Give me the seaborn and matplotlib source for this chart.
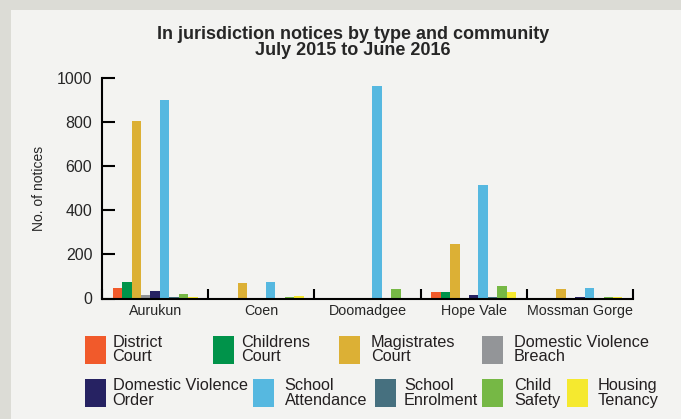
import matplotlib
matplotlib.use("Agg")
import matplotlib.pyplot as plt
from matplotlib.patches import Rectangle
import seaborn as sns
import pandas as pd

communities = ["Aurukun", "Coen", "Doomadgee", "Hope Vale", "Mossman Gorge"]
types = ["District Court", "Childrens Court", "Magistrates Court",
         "Domestic Violence Breach", "Domestic Violence Order",
         "School Attendance", "School Enrolment", "Child Safety", "Housing Tenancy"]
legend_labels = ["District\nCourt", "Childrens\nCourt", "Magistrates\nCourt",
                 "Domestic Violence\nBreach", "Domestic Violence\nOrder",
                 "School\nAttendance", "School\nEnrolment", "Child\nSafety", "Housing\nTenancy"]
colors = ["#f15a2b", "#00934a", "#dcb035", "#939598", "#262262",
          "#56b8e0", "#46707f", "#76b845", "#f5e92f"]

district_court = [48, 4, 1, 30, 2]
childrens_court = [75, 1, 1, 30, 2]
magistrates_court = [805, 70, 1, 245, 42]
dv_breach = [14, 4, 1, 4, 3]
dv_order = [35, 4, 1, 17, 8]
school_attendance = [900, 75, 965, 515, 48]
school_enrolment = [8, 3, 1, 5, 4]
child_safety = [22, 8, 42, 57, 8]
housing_tenancy = [5, 12, 1, 30, 8]

series = [district_court, childrens_court, magistrates_court, dv_breach, dv_order,
          school_attendance, school_enrolment, child_safety, housing_tenancy]

rows = []
for t, vals in zip(types, series):
    for c, v in zip(communities, vals):
        rows.append({"Community": c, "Type": t, "Notices": v})
df = pd.DataFrame(rows)

sns.set_theme(style="white")
plt.rcParams["font.family"] = ["Liberation Sans", "DejaVu Sans"]

W, H = 681, 419
fig = plt.figure(figsize=(W / 100, H / 100), dpi=100)
fig.patch.set_facecolor("#dcdcd6")

def fx(x):
    return x / W

def fy(y):
    return 1 - y / H

# lighter panel
fig.add_artist(Rectangle((fx(11), 0), 1 - fx(11), fy(10), transform=fig.transFigure,
                         facecolor="#f3f3f1", edgecolor="none", zorder=0))

ax = fig.add_axes([fx(102), fy(298.5), fx(633) - fx(102), fy(78) - fy(298.5)])
ax.set_facecolor("none")

sns.barplot(data=df, x="Community", y="Notices", hue="Type", hue_order=types,
            order=communities, palette=colors, saturation=1, width=0.8,
            dodge=True, legend=False, ax=ax, linewidth=0, errorbar=None)

ax.set_ylim(0, 1000)
ax.set_xlim(-0.5, len(communities) - 0.5)
ax.set_yticks([0, 200, 400, 600, 800, 1000])
ax.tick_params(axis="y", direction="in", length=9, width=1.5, color="black",
               labelsize=11.5, pad=7, left=True)
ax.set_xticks(range(len(communities)))
ax.set_xticklabels(communities, fontsize=10.3)
ax.tick_params(axis="x", which="major", length=0, pad=4)
ax.set_xticks([i - 0.5 for i in range(len(communities) + 1)], minor=True)
ax.tick_params(axis="x", which="minor", direction="in", length=7, width=1.5,
               color="black", bottom=True)
ax.set_xlabel("")
ax.set_ylabel("No. of notices", fontsize=10, labelpad=8)

for s in ["top", "right"]:
    ax.spines[s].set_visible(False)
for s in ["left", "bottom"]:
    ax.spines[s].set_color("black")
    ax.spines[s].set_linewidth(1.5)

fig.text(fx(353), fy(34.5), "In jurisdiction notices by type and community",
         ha="center", va="center", fontsize=13, fontweight="bold")
fig.text(fx(353), fy(50.5), "July 2015 to June 2016",
         ha="center", va="center", fontsize=13, fontweight="bold")

# legend (manual layout)
patch_x = [85, 213, 339, 482, 85, 253, 375, 482, 567]
patch_y = [335.5, 335.5, 335.5, 335.5, 379, 379, 379, 379, 379]
text_off = [27.6, 28, 31.7, 32, 27.6, 31.6, 29, 32, 31]
pw, ph = 21, 28
for lab, col, px, py, to in zip(legend_labels, colors, patch_x, patch_y, text_off):
    fig.add_artist(Rectangle((fx(px), fy(py + ph)), pw / W, ph / H,
                             transform=fig.transFigure, facecolor=col,
                             edgecolor="none"))
    fig.text(fx(px + to), fy(py + ph / 2), lab, ha="left", va="center",
             fontsize=11.7, linespacing=0.95, color="#231f20")

fig.savefig("out.png", dpi=100, facecolor=fig.get_facecolor())
